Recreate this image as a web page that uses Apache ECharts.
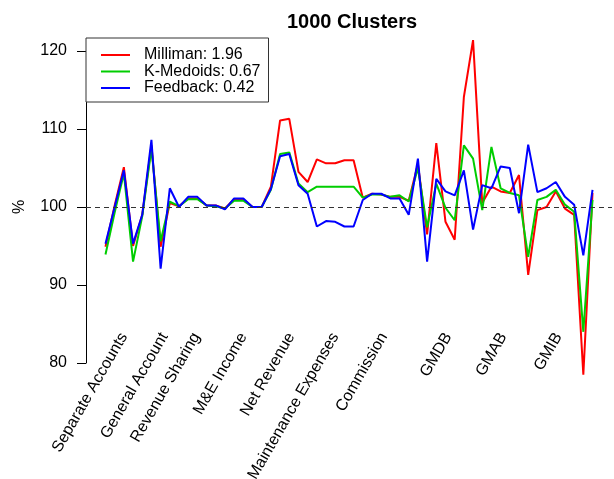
<!DOCTYPE html>
<html>
<head>
<meta charset="utf-8">
<script src="https://cdn.jsdelivr.net/npm/echarts@6/dist/echarts.min.js"></script>
<style>html,body{margin:0;padding:0;background:#fff}#c{width:614px;height:479px}</style>
</head>
<body>
<div id="c"></div>
<script>
const titleText = "1000 Clusters";
const seriesNames = ["Milliman: 1.96", "K-Medoids: 0.67", "Feedback: 0.42"];
const milliman = [94.9,100.2,105.1,95.0,99.0,107.9,94.9,100.5,100.1,101.1,101.1,100.2,100.2,99.8,101.0,101.0,100.0,100.0,102.6,111.1,111.3,104.5,103.2,106.1,105.6,105.6,106.0,106.0,101.2,101.7,101.6,101.3,101.3,100.8,105.5,96.5,108.2,98.1,95.8,114.1,121.4,100.5,102.6,102.0,101.8,104.1,91.3,99.6,100.0,102.0,99.8,99.0,78.5,101.8];
const kmedoids = [93.9,99.3,104.3,93.0,98.8,107.5,95.6,100.7,100.1,101.0,101.0,100.2,100.1,99.8,100.8,100.8,100.0,100.0,102.2,106.8,107.0,103.0,101.9,102.6,102.6,102.6,102.6,102.6,101.2,101.6,101.6,101.3,101.5,100.7,105.0,97.4,103.0,99.9,98.3,107.9,106.2,99.6,107.7,102.4,101.8,101.5,93.6,100.9,101.3,102.2,100.3,99.4,84.0,100.9];
const feedback = [95.3,100.0,104.7,95.3,99.0,108.6,92.1,102.4,100.0,101.3,101.3,100.2,100.2,99.7,101.1,101.1,100.0,100.0,102.3,106.5,106.8,102.8,101.7,97.5,98.2,98.1,97.5,97.5,100.9,101.7,101.7,101.1,101.1,99.0,106.2,93.0,103.6,102.0,101.5,104.7,97.1,102.8,102.4,105.2,105.0,99.2,108.0,101.9,102.4,103.2,101.3,100.3,93.8,102.2];
const groupLabels = ["Separate Accounts","General Account","Revenue Sharing","M&E Income","Net Revenue","Maintenance Expenses","Commission","GMDB","GMAB","GMIB"];
const groupAt = [2.0, 6.4, 9.9, 15.0, 20.2, 25.0, 30.3, 37.3, 43.3, 49.3];
const yTicks = [80, 90, 100, 110, 120];
const refLevel = 100;

const n = milliman.length;
const xMin = -0.04 * (n - 1), xMax = (n - 1) * 1.04;
const labelMap = {};
groupAt.forEach((p, i) => { labelMap[p.toFixed(2)] = groupLabels[i]; });

const colors = ["#FF0000", "#00CD00", "#0000FF"];
const arrays = [milliman, kmedoids, feedback];
const font = "'Liberation Sans', Arial, sans-serif";

const series = arrays.map((arr, k) => ({
  name: seriesNames[k],
  type: 'line',
  data: arr.map((v, i) => [i, v]),
  symbol: 'none',
  clip: false,
  z: 2 + k,
  lineStyle: { color: colors[k], width: 2 },
  itemStyle: { color: colors[k] }
}));
series.push({
  type: 'line',
  data: [],
  silent: true,
  markLine: {
    silent: true, symbol: 'none', label: { show: false },
    lineStyle: { color: '#333', type: [5, 4], width: 1 },
    data: [[{ coord: [xMin, refLevel] }, { coord: [xMax, refLevel] }]]
  }
});

const chart = echarts.init(document.getElementById('c'), null, { renderer: 'canvas' });
chart.setOption({
  animation: false,
  backgroundColor: '#fff',
  title: {
    text: titleText, left: 282, top: 7,
    textStyle: { fontFamily: font, fontSize: 20, fontWeight: 'bold', color: '#000' }
  },
  legend: {
    data: seriesNames.map(s => ({ name: s, icon: 'rect' })),
    orient: 'vertical', left: 86, top: 38,
    padding: [9, 8, 6, 15], itemGap: 0.5, itemWidth: 29, itemHeight: 2,
    borderColor: '#333', borderWidth: 1, backgroundColor: '#fff',
    textStyle: { fontFamily: font, fontSize: 16, lineHeight: 16, color: '#000', padding: [0, 0, 0, 9] }
  },
  grid: { left: 86, right: 2, top: 51, bottom: 116, outerBoundsMode: 'none', containLabel: false },
  xAxis: {
    type: 'value', min: xMin, max: xMax,
    axisLine: { show: false }, axisTick: { show: false }, splitLine: { show: false },
    axisLabel: {
      customValues: groupAt, rotate: 60, margin: -29,
      fontFamily: font, fontSize: 16, color: '#000',
      formatter: v => labelMap[Number(v).toFixed(2)] || ''
    }
  },
  yAxis: {
    type: 'value', min: yTicks[0], max: yTicks[yTicks.length - 1], interval: 10,
    name: '%', nameLocation: 'middle', nameGap: 58, nameRotate: 90,
    nameTextStyle: { fontFamily: font, fontSize: 16, color: '#000' },
    axisLine: { show: true, onZero: false, lineStyle: { color: '#000', width: 1 } },
    axisTick: { show: true, length: 9, lineStyle: { color: '#000' } },
    axisLabel: { fontFamily: font, fontSize: 16, color: '#000', margin: 19 },
    splitLine: { show: false }
  },
  series: series
});
</script>
</body>
</html>
